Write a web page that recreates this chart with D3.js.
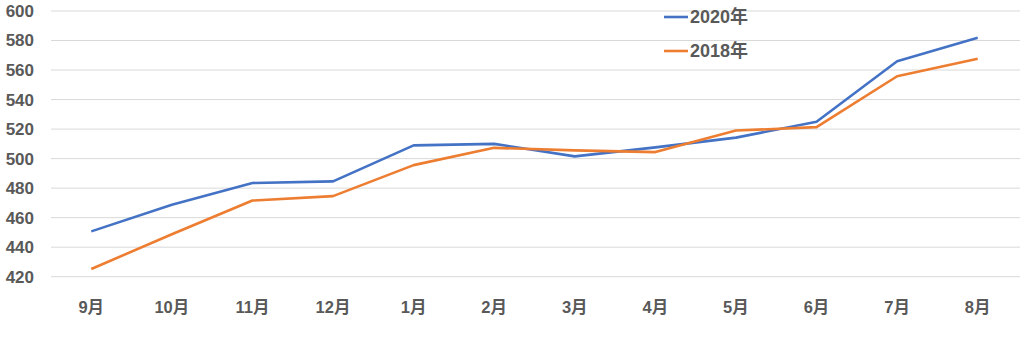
<!DOCTYPE html>
<html>
<head>
<meta charset="utf-8">
<script src="https://cdn.jsdelivr.net/npm/d3@7"></script>
<style>
  body { margin: 0; background: #fff; }
  svg text { font-family: "Liberation Sans", "Noto Sans CJK JP", sans-serif; font-weight: bold; fill: #595959; }
</style>
</head>
<body>
<svg width="1024" height="354"></svg>
<script>
var months = ["9月","10月","11月","12月","1月","2月","3月","4月","5月","6月","7月","8月"];
var values2020 = [450.7, 468.8, 483.5, 484.6, 509, 510, 501.5, 507.6, 514.2, 525, 566, 581.8];
var values2018 = [425.2, 448.8, 471.6, 474.6, 495.6, 507.3, 505.6, 504.4, 519, 521.3, 555.8, 567.6];
var yTicks = [420, 440, 460, 480, 500, 520, 540, 560, 580, 600];
var seriesNames = ["2020年", "2018年"];
var seriesColors = ["#4472C4", "#ED7D31"];

var svg = d3.select("svg");

var x = d3.scaleBand().domain(months).range([51, 1018]);
var y = d3.scaleLinear().domain([420, 600]).range([276.7, 11]);

// grid
svg.append("g")
  .selectAll("line")
  .data(yTicks)
  .enter().append("line")
  .attr("x1", 51).attr("x2", 1020)
  .attr("y1", function(d) { return y(d); })
  .attr("y2", function(d) { return y(d); })
  .attr("stroke", "#d9d9d9")
  .attr("stroke-width", 1);

// y labels
svg.append("g")
  .selectAll("text")
  .data(yTicks)
  .enter().append("text")
  .attr("x", 34)
  .attr("y", function(d) { return y(d); })
  .attr("dy", "0.35em")
  .attr("text-anchor", "end")
  .style("font-size", "17px")
  .text(function(d) { return d; });

// x labels
svg.append("g")
  .selectAll("text")
  .data(months)
  .enter().append("text")
  .attr("x", function(d) { return x(d) + x.bandwidth() / 2; })
  .attr("y", 307)
  .attr("dy", "0.35em")
  .attr("text-anchor", "middle")
  .style("font-size", "16.5px")
  .text(function(d) { return d; });

var line = d3.line()
  .x(function(d, i) { return x(months[i]) + x.bandwidth() / 2; })
  .y(function(d) { return y(d); });

var series = [values2020, values2018];
svg.append("g")
  .selectAll("path")
  .data(series)
  .enter().append("path")
  .attr("d", line)
  .attr("fill", "none")
  .attr("stroke", function(d, i) { return seriesColors[i]; })
  .attr("stroke-width", 2.6)
  .attr("stroke-linejoin", "round");

// legend
var legend = svg.append("g")
  .selectAll("g")
  .data(seriesNames)
  .enter().append("g")
  .attr("transform", function(d, i) { return "translate(664," + (17 + i * 34) + ")"; });

legend.append("line")
  .attr("x1", 0).attr("x2", 24)
  .attr("stroke", function(d, i) { return seriesColors[i]; })
  .attr("stroke-width", 2.6);

legend.append("text")
  .attr("x", 26)
  .attr("dy", "0.35em")
  .style("font-size", "18px")
  .text(function(d) { return d; });
</script>
</body>
</html>
